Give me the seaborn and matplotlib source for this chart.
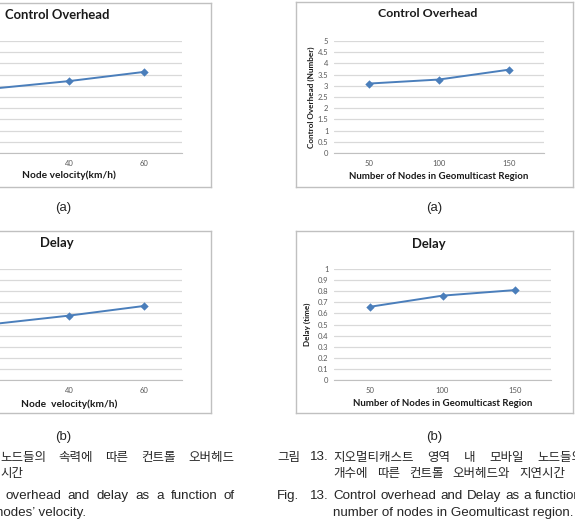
import matplotlib
matplotlib.use("Agg")
import matplotlib.pyplot as plt
import seaborn as sns

W, H = 575, 525

# chart data read from the page
velocity = ["20", "40", "60"]
overhead_by_velocity = [2.88, 3.21, 3.62]
delay_by_velocity = [0.505, 0.58, 0.667]

nodes = ["50", "100", "150"]
overhead_by_nodes = [3.1, 3.28, 3.72]
delay_by_nodes = [0.66, 0.76, 0.81]

overhead_ticks = [0, 0.5, 1, 1.5, 2, 2.5, 3, 3.5, 4, 4.5, 5]
overhead_labels = ["0", "0.5", "1", "1.5", "2", "2.5", "3", "3.5", "4", "4.5", "5"]
delay_ticks = [0, 0.1, 0.2, 0.3, 0.4, 0.5, 0.6, 0.7, 0.8, 0.9, 1]
delay_labels = ["0", "0.1", "0.2", "0.3", "0.4", "0.5", "0.6", "0.7", "0.8", "0.9", "1"]

sns.set_style("white")
plt.rcParams["font.family"] = ["Lato", "DejaVu Sans"]

fig = plt.figure(figsize=(W / 100, H / 100), dpi=100)

LINE = "#4a7ebb"
GRID = "#d9d9d9"
BORDER = "#c0c0c0"
TICK = "#595959"


def px_axes(x0, y0, x1, y1, **kw):
    return fig.add_axes([x0 / W, 1 - y1 / H, (x1 - x0) / W, (y1 - y0) / H], **kw)


def draw_chart(box, plot, cats, vals, ticks, labels, title, title_pos, title_size,
               xlabel, xlabel_y, xlabel_size, ylabel, ylabel_x):
    fb = px_axes(*box, zorder=0)
    fb.set_xticks([])
    fb.set_yticks([])
    fb.set_facecolor("white")
    for s in fb.spines.values():
        s.set_color(BORDER)
        s.set_linewidth(1.0)

    ax = px_axes(*plot, zorder=1)
    ax.set_facecolor("none")
    sns.pointplot(x=cats, y=vals, ax=ax, color=LINE, markers="D", errorbar=None,
                  markersize=3.2, linewidth=1.4)
    ax.set_xlim(-0.5, len(cats) - 0.5)
    ax.set_ylim(ticks[0], ticks[-1])
    ax.set_yticks(ticks)
    ax.set_yticklabels(labels)
    ax.yaxis.grid(True, color=GRID, linewidth=0.9)
    ax.set_axisbelow(True)
    for side in ["left", "right", "top"]:
        ax.spines[side].set_visible(False)
    ax.spines["bottom"].set_color(BORDER)
    ax.tick_params(length=0, labelsize=5.5, labelcolor=TICK)
    ax.tick_params(axis="x", pad=5)
    ax.tick_params(axis="y", pad=4)

    px0, py0, px1, py1 = plot
    pw, ph = px1 - px0, py1 - py0
    tx, ty = title_pos
    ax.set_title(title, x=(tx - px0) / pw, y=(py1 - ty) / ph, va="center", ha="center",
                 fontsize=title_size, fontweight="bold", color="#1a1a1a")
    ax.set_xlabel(xlabel, fontsize=xlabel_size, fontweight="bold", color="#1a1a1a")
    ax.xaxis.set_label_coords(0.5, (py1 - xlabel_y) / ph)
    ax.xaxis.label.set_va("center")
    ax.set_ylabel(ylabel, fontsize=5.9, fontweight="bold", color="#1a1a1a")
    ax.yaxis.set_label_coords((ylabel_x - px0) / pw, 0.5)
    ax.yaxis.label.set_va("center")
    return ax


# left column (cut off at the page edge)
draw_chart((-85, 3, 211, 187), (-43.5, 41, 181.5, 153), velocity, overhead_by_velocity,
           overhead_ticks, overhead_labels, "Control Overhead", (57, 23), 9.4,
           "Node velocity(km/h)", 175, 7.3, "Control Overhead (Number)", -70)
draw_chart((-85, 231, 211, 413), (-43.5, 269, 181.5, 380), velocity, delay_by_velocity,
           delay_ticks, delay_labels, "Delay", (57, 251), 9.4,
           "Node  velocity(km/h)", 404, 7.3, "Delay (time)", -70)

# right column
draw_chart((296, 2, 573, 187), (334, 41, 544, 153), nodes, overhead_by_nodes,
           overhead_ticks, overhead_labels, "Control Overhead", (428, 22), 8.9,
           "Number of Nodes in Geomulticast Region", 177, 6.9, "Control Overhead (Number)", 311)
draw_chart((296, 231, 573, 413), (334, 269, 551, 380), nodes, delay_by_nodes,
           delay_ticks, delay_labels, "Delay", (429, 252), 9.4,
           "Number of Nodes in Geomulticast Region", 404, 6.9, "Delay (time)", 307)

# captions
KR = ["Noto Sans CJK KR", "DejaVu Sans"]
EN = ["Liberation Sans Narrow", "Liberation Sans", "DejaVu Sans"]
CAP = "#262626"
KR_SIZE = 9
EN_SIZE = 9.6

for cx, cy, s in [(63, 208, "(a)"), (434, 208, "(a)"), (63, 437, "(b)"), (434, 437, "(b)")]:
    fig.text(cx / W, 1 - cy / H, s, ha="center", va="center", fontsize=9.5,
             family=EN, color=CAP)


def put(x, y, s, fam, size):
    return fig.text(x / W, 1 - y / H, s, ha="left", va="center", fontsize=size,
                    family=fam, color=CAP)


def justify(words, x0, y, fam, size, x1=None, last_x=None):
    texts = [put(0, y, w, fam, size) for w in words]
    renderer = fig.canvas.get_renderer()
    widths = [t.get_window_extent(renderer).width for t in texts]
    if last_x is not None:
        gap = (last_x - x0 - sum(widths[:-1])) / (len(words) - 1)
    else:
        gap = (x1 - x0 - sum(widths)) / (len(words) - 1)
    x = x0
    for t, w in zip(texts, widths):
        t.set_x(x / W)
        x += w + gap


justify(["노드들의", "속력에", "따른", "컨트롤", "오버헤드"], 0, 457, KR, KR_SIZE, x1=234)
put(0, 474, "시간", KR, KR_SIZE)
justify(["overhead", "and", "delay", "as", "a", "function", "of"], 5, 496, EN, EN_SIZE, x1=235)
put(-4, 513, "nodes\u2019 velocity.", EN, EN_SIZE)

put(277, 457, "그림", KR, KR_SIZE)
put(310, 457, "13.", EN, EN_SIZE)
justify(["지오멀티캐스트", "영역", "내", "모바일", "노드들의"], 333, 457, KR, KR_SIZE, last_x=537)
justify(["개수에", "따른", "컨트롤", "오버헤드와", "지연시간"], 333, 474, KR, KR_SIZE, last_x=519)
put(277, 496, "Fig.", EN, EN_SIZE)
put(310, 496, "13.", EN, EN_SIZE)
justify(["Control", "overhead", "and", "Delay", "as", "a", "function"], 333, 496, EN, EN_SIZE, x1=582)
put(333, 513, "number of nodes in Geomulticast region.", EN, EN_SIZE)

fig.savefig("out.png", dpi=100)
